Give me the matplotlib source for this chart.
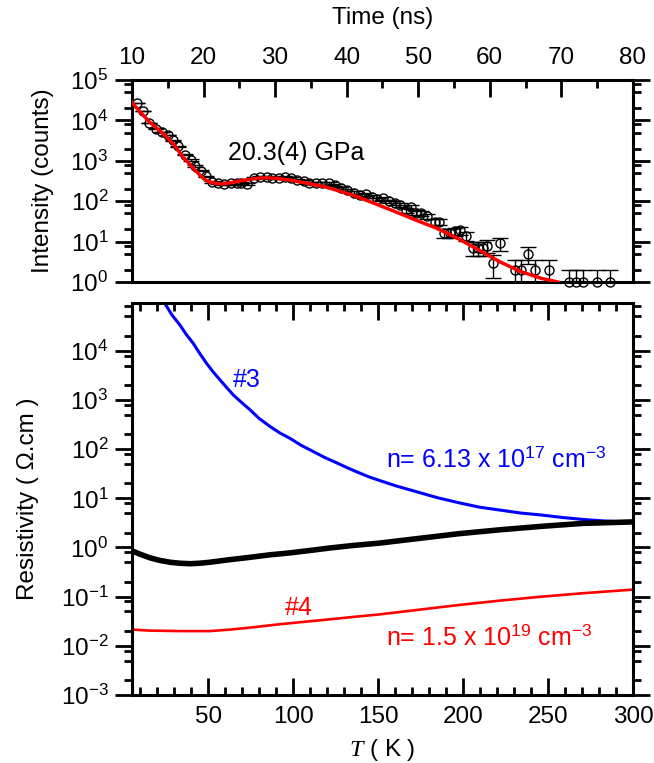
import numpy as np
import matplotlib
matplotlib.use("Agg")
import matplotlib.pyplot as plt
from matplotlib.ticker import LogLocator, MultipleLocator, NullFormatter

plt.rcParams['font.family'] = ['Liberation Sans', 'DejaVu Sans']
plt.rcParams['mathtext.fontset'] = 'custom'
plt.rcParams['mathtext.rm'] = 'Liberation Sans'
plt.rcParams['mathtext.it'] = 'Liberation Serif:italic'
plt.rcParams['font.size'] = 17.5

# --- top panel: time-resolved counts at 20.3(4) GPa ---
time_ns = [10.7, 11.6, 12.4, 13.3, 14.2, 15.1, 15.8, 16.5, 17.4, 18.2, 18.8, 19.6,
           20.3, 21.2, 22.0, 22.9, 23.8, 24.7, 25.3, 26.1, 27.0, 27.9, 28.8, 29.6,
           30.5, 31.4, 32.2, 33.1, 34.0, 34.8, 35.7, 36.6, 37.5, 38.4, 39.2, 40.1,
           41.0, 41.9, 42.7, 43.5, 44.2, 45.1, 45.9, 46.8, 47.5, 48.3, 49.0, 49.7,
           50.4, 51.2, 52.3, 52.9, 53.6, 54.4, 55.2, 55.8, 56.7, 57.6, 58.3, 59.0,
           59.6, 60.5, 61.4, 63.5, 64.3, 65.4, 66.3, 68.3, 71.0, 72.0, 73.0, 75.0, 76.8]
counts = [27500, 17000, 8500, 6300, 5200, 4400, 3200, 2300, 1400, 1050, 740, 575,
          410, 300, 290, 270, 275, 290, 290, 265, 370, 405, 390, 370,
          380, 390, 370, 330, 315, 290, 275, 275, 275, 250, 210, 190,
          162, 141, 148, 129, 112, 117, 100, 91, 81, 60, 71, 52,
          50, 43, 31, 31, 16, 16, 18, 19, 14, 7, 7, 7,
          8, 3, 9, 2, 2, 5, 2, 2, 1, 1, 1, 1, 1]
count_err = np.sqrt(counts)

fit_t = [10.0, 11.2, 12.4, 13.6, 14.8, 16.0, 17.1, 18.0, 18.8, 19.6, 20.3, 21.0,
         21.8, 22.5, 23.2, 24.2, 25.3, 26.4, 27.6, 28.8, 29.9, 31.0, 32.2, 33.4,
         34.6, 36.9, 39.2, 41.5, 43.8, 46.8, 49.7, 52.6, 55.5, 58.5, 61.4, 64.3,
         67.2, 69.5]
fit_log = [4.44, 4.20, 3.97, 3.79, 3.60, 3.37, 3.10, 2.93, 2.77, 2.63, 2.52, 2.47,
           2.44, 2.43, 2.44, 2.47, 2.51, 2.54, 2.57, 2.58, 2.57, 2.55, 2.52, 2.48,
           2.44, 2.36, 2.24, 2.11, 1.95, 1.74, 1.53, 1.33, 1.08, 0.79, 0.50, 0.26,
           0.09, 0.0]

# --- bottom panel: resistivity vs temperature ---
T3 = [24.4, 28.5, 33.3, 37.0, 41.1, 45.0, 49.0, 52.8, 56.8, 60.8, 64.7, 69.5,
      74.5, 80.0, 86.3, 92.0, 98, 104.5, 111.8, 118.5, 125.6, 132.5, 139.3, 145.0,
      151, 160.7, 172.9, 185.1, 197.4, 209.6, 221.8, 234, 246.2, 258.4, 270.6,
      282.8, 300]
rho3_log = [4.96, 4.73, 4.52, 4.33, 4.15, 3.94, 3.74, 3.57, 3.41, 3.25, 3.10, 2.95,
            2.80, 2.62, 2.46, 2.33, 2.22, 2.08, 1.95, 1.83, 1.72, 1.61, 1.51, 1.43,
            1.36, 1.25, 1.13, 1.01, 0.91, 0.82, 0.76, 0.70, 0.66, 0.61, 0.57,
            0.54, 0.51]

T_blk = [5.8, 10.0, 15.6, 21.0, 27.4, 33.0, 39.2, 45.0, 50.9, 62.0, 74.5, 86.0,
         98, 110.0, 121.6, 135.0, 151, 172.9, 197.4, 221.8, 246.2, 270.6, 300]
rho_blk_log = [-0.08, -0.14, -0.21, -0.26, -0.30, -0.32, -0.33, -0.32, -0.30, -0.25,
               -0.20, -0.15, -0.11, -0.06, -0.01, 0.04, 0.09, 0.18, 0.28, 0.36,
               0.43, 0.49, 0.52]

T4 = [5.8, 15.0, 33.3, 50.9, 62.7, 77.0, 92.2, 107.0, 121.6, 136.0, 151, 172.9,
      197.4, 221.8, 246.2, 270.6, 298.8]
rho4_log = [-1.67, -1.69, -1.70, -1.70, -1.67, -1.62, -1.56, -1.51, -1.46, -1.41,
            -1.36, -1.27, -1.17, -1.08, -1.0, -0.93, -0.86]

fig = plt.figure(figsize=(6.54, 7.63), dpi=100)
ax1 = fig.add_axes([0.2018, 0.6304, 0.766, 0.2647])
ax2 = fig.add_axes([0.2018, 0.0891, 0.766, 0.5142])

for ax in (ax1, ax2):
    for s in ax.spines.values():
        s.set_linewidth(2.2)
    ax.set_yscale('log')
    ax.yaxis.set_major_locator(LogLocator(base=10, numticks=20))
    ax.yaxis.set_minor_locator(LogLocator(base=10, subs=(2, 5, 8), numticks=20))
    ax.yaxis.set_minor_formatter(NullFormatter())
    ax.tick_params(axis='y', which='both', direction='out', left=True, right=True,
                   width=2)
    ax.tick_params(axis='y', which='major', length=12, pad=5)
    ax.tick_params(axis='y', which='minor', length=6)
    ax.tick_params(axis='x', which='both', direction='in', width=2)
    ax.tick_params(axis='x', which='major', length=12, pad=8)
    ax.tick_params(axis='x', which='minor', length=6)

# top panel
ax1.errorbar(time_ns, counts, yerr=count_err, fmt='none', ecolor='black',
             elinewidth=1, capsize=6, capthick=1, zorder=2)
ax1.plot(time_ns, counts, 'o', mfc='none', mec='black', ms=6.5, mew=1,
         clip_on=False, zorder=3)
ax1.plot(fit_t, 10 ** np.array(fit_log), color='red', lw=2.5, zorder=4)
ax1.set_xlim(10, 80)
ax1.set_ylim(1, 1e5)
ax1.xaxis.set_major_locator(MultipleLocator(10))
ax1.xaxis.set_minor_locator(MultipleLocator(5))
ax1.tick_params(axis='x', which='both', top=True, bottom=False,
                labeltop=True, labelbottom=False)
ax1.xaxis.set_label_position('top')
ax1.set_xlabel('Time (ns)')
ax1.xaxis.label.set_va('center')
ax1.xaxis.set_label_coords(0.5, 1.307)
ax1.set_ylabel('Intensity (counts)')
ax1.yaxis.set_label_coords(-0.156, 0.5)
ax1.text(23.4, 10 ** 3.2, '20.3(4) GPa', ha='left', va='center', fontsize=18)

# bottom panel
ax2.plot(T3, 10 ** np.array(rho3_log), color='#0000ff', lw=2.2)
ax2.plot(T_blk, 10 ** np.array(rho_blk_log), color='black', lw=4)
ax2.plot(T4, 10 ** np.array(rho4_log), color='#ff0000', lw=1.9)
ax2.set_xlim(5, 300)
ax2.set_ylim(1e-3, 9.5e4)
ax2.xaxis.set_major_locator(MultipleLocator(50))
ax2.xaxis.set_minor_locator(MultipleLocator(10))
ax2.tick_params(axis='x', which='both', top=True, bottom=True)
ax2.set_xlabel(r'$T$ ( K )')
ax2.xaxis.label.set_va('center')
ax2.xaxis.set_label_coords(0.5, -0.14)
ax2.set_ylabel('Resistivity ( Ω.cm )')
ax2.yaxis.set_label_coords(-0.186, 0.5)

ax2.text(64.5, 10 ** 3.41, '#3', color='#0000ff', ha='left', va='center', fontsize=18)
ax2.text(154.6, 10 ** 1.78, r'n= 6.13 x 10$^{17}$ cm$^{-3}$', color='#0000ff',
         ha='left', va='center', fontsize=18)
ax2.text(95, 10 ** -1.24, '#4', color='#ff0000', ha='left', va='center', fontsize=18)
ax2.text(154.6, 10 ** -1.83, r'n= 1.5 x 10$^{19}$ cm$^{-3}$', color='#ff0000',
         ha='left', va='center', fontsize=18)

fig.savefig('out.png', dpi=100)
